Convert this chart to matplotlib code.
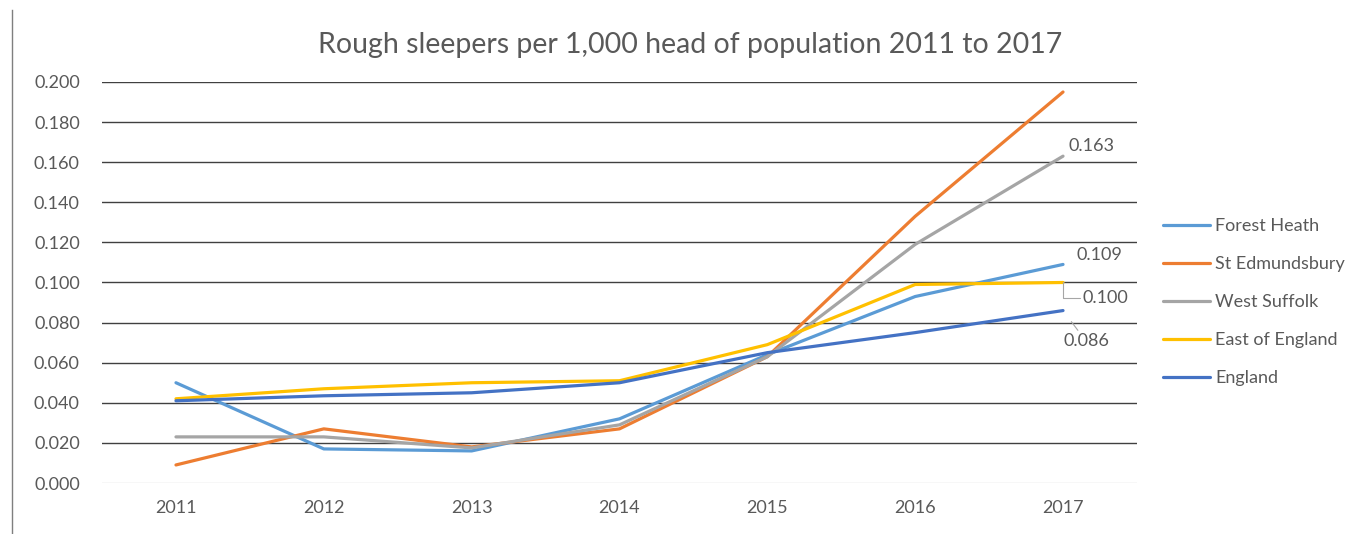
import matplotlib
matplotlib.use("Agg")
import matplotlib.pyplot as plt

years = ["2011", "2012", "2013", "2014", "2015", "2016", "2017"]
forest_heath = [0.050, 0.017, 0.016, 0.032, 0.064, 0.093, 0.109]
st_edmundsbury = [0.009, 0.027, 0.018, 0.027, 0.063, 0.133, 0.195]
west_suffolk = [0.023, 0.023, 0.0175, 0.029, 0.063, 0.119, 0.163]
east_of_england = [0.042, 0.047, 0.050, 0.051, 0.069, 0.099, 0.100]
england = [0.041, 0.0435, 0.045, 0.050, 0.065, 0.075, 0.086]

series_names = ["Forest Heath", "St Edmundsbury", "West Suffolk", "East of England", "England"]
series_values = [forest_heath, st_edmundsbury, west_suffolk, east_of_england, england]
colors = ["#5B9BD5", "#ED7D31", "#A5A5A5", "#FFC000", "#4472C4"]
yticks = [0.0, 0.02, 0.04, 0.06, 0.08, 0.10, 0.12, 0.14, 0.16, 0.18, 0.20]

plt.rcParams['font.family'] = ['Lato', 'DejaVu Sans']
txt = "#595959"

fig = plt.figure(figsize=(13.68, 5.34), dpi=100)
ax = fig.add_axes([0.0746, 0.0955, 0.7565, 0.751])
x = list(range(len(years)))

for name, vals, c in zip(series_names, series_values, colors):
    ax.plot(x, vals, color=c, lw=2.3, label=name, solid_capstyle='round', zorder=3)

ax.set_xlim(-0.5, len(years) - 0.5)
ax.set_ylim(0, 0.2)
ax.set_yticks(yticks)
ax.set_yticklabels([f"{v:.3f}" for v in yticks])
ax.set_xticks(x)
ax.set_xticklabels(years)
ax.tick_params(axis='both', length=0, labelsize=13, colors=txt)
ax.tick_params(axis='y', pad=16)
ax.tick_params(axis='x', pad=12)
for s in ax.spines.values():
    s.set_visible(False)
for v in yticks:
    ax.axhline(v, color="#D9D9D9" if v == 0 else "#404040", lw=1.0, zorder=1)

fig.text(690 / 1368, 1 - 45 / 534, "Rough sleepers per 1,000 head of population 2011 to 2017",
         fontsize=20.5, color=txt, ha='center', va='center')

# data labels at 2017
last = len(years) - 1
fs = 13
ax.annotate(f"{west_suffolk[-1]:.3f}", (last, west_suffolk[-1]), xytext=(4, 7),
            textcoords='offset points', fontsize=fs, color=txt, ha='left', va='center')
ax.annotate(f"{forest_heath[-1]:.3f}", (last, forest_heath[-1]), xytext=(10, 7),
            textcoords='offset points', fontsize=fs, color=txt, ha='left', va='center')
ax.annotate(f"{east_of_england[-1]:.3f}", (last, east_of_england[-1]), xytext=(14, -11),
            textcoords='offset points', fontsize=fs, color=txt, ha='left', va='center',
            arrowprops=dict(arrowstyle='-', color='#A6A6A6', lw=0.8,
                            connectionstyle='angle,angleA=0,angleB=90,rad=0',
                            shrinkA=0, shrinkB=0))
ax.annotate(f"{england[-1]:.3f}", (last, england[-1]), xytext=(0, -22),
            textcoords='offset points', fontsize=fs, color=txt, ha='left', va='center',
            arrowprops=dict(arrowstyle='-', color='#A6A6A6', lw=0.8, shrinkA=0, shrinkB=10))

leg = fig.legend(loc='center left', bbox_to_anchor=(0.838, 1 - 302 / 534), frameon=False,
                 fontsize=13, labelcolor=txt, handlelength=2.6, handletextpad=0.3,
                 labelspacing=1.22)

# left border line of the page figure
fig.add_artist(plt.Line2D([12 / 1368, 12 / 1368], [0, 1 - 10 / 534],
                          transform=fig.transFigure, color="#7F7F7F", lw=1))

fig.savefig("out.png", dpi=100)
